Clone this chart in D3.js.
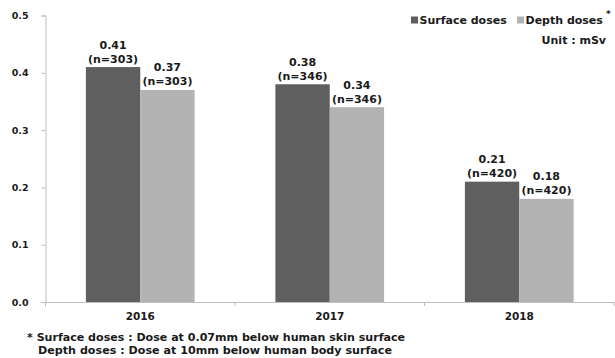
<!DOCTYPE html>
<html>
<head>
<meta charset="utf-8">
<script src="https://cdn.jsdelivr.net/npm/d3@7"></script>
<style>
  html, body { margin: 0; padding: 0; background: #fff; }
  svg { display: block; }
  text { font-family: "DejaVu Sans", sans-serif; font-weight: bold; fill: #1a1a1a; }
</style>
</head>
<body>
<svg id="chart" width="615" height="358"></svg>
<script>
const years = ["2016", "2017", "2018"];
const seriesNames = ["Surface doses", "Depth doses"];
const surfaceDoses = [0.41, 0.38, 0.21];
const depthDoses = [0.37, 0.34, 0.18];
const sampleSizes = [303, 346, 420];
const yTicks = [0.0, 0.1, 0.2, 0.3, 0.4, 0.5];
const colors = ["#5f5f5f", "#b3b3b3"];
const footnotes = [
  "* Surface doses : Dose at 0.07mm below human skin surface",
  "Depth doses : Dose at 10mm below human body surface"
];

(function () {
const svg = d3.select("#chart");
const mLeft = 45.5, mRight = 614, mTop = 15.5, mBottom = 302;

const x = d3.scaleBand().domain(years).range([mLeft, mRight]).paddingInner(0).paddingOuter(0);
const x1 = d3.scaleBand().domain(seriesNames).range([0, x.bandwidth()]).paddingInner(0).paddingOuter(0.743);
const y = d3.scaleLinear().domain([0, 0.5]).range([mBottom, mTop]);

// Y axis
const yAxis = svg.append("g").attr("transform", `translate(${mLeft},0)`)
  .call(d3.axisLeft(y).tickValues(yTicks).tickFormat(d3.format(".1f")).tickSize(4).tickPadding(13));
yAxis.select(".domain").attr("stroke", "#bdbdbd");
yAxis.selectAll(".tick line").attr("stroke", "#bdbdbd");
yAxis.selectAll(".tick text").attr("font-size", "9.5px").attr("font-family", "DejaVu Sans").attr("font-weight", "bold").attr("fill", "#1a1a1a");

// bars
const data = years.map((yr, i) => ({
  year: yr,
  vals: [
    { s: seriesNames[0], v: surfaceDoses[i], n: sampleSizes[i], c: colors[0] },
    { s: seriesNames[1], v: depthDoses[i], n: sampleSizes[i], c: colors[1] }
  ]
}));

const groups = svg.append("g").selectAll("g").data(data).join("g")
  .attr("transform", d => `translate(${x(d.year)},0)`);

groups.selectAll("rect").data(d => d.vals).join("rect")
  .attr("x", d => x1(d.s))
  .attr("width", x1.bandwidth())
  .attr("y", d => y(d.v))
  .attr("height", d => y(0) - y(d.v))
  .attr("fill", d => d.c);

groups.selectAll("text.val").data(d => d.vals).join("text")
  .attr("class", "val")
  .attr("x", d => x1(d.s) + x1.bandwidth() / 2)
  .attr("y", d => y(d.v) - 18.5)
  .attr("text-anchor", "middle")
  .attr("font-size", "11px")
  .text(d => d.v.toFixed(2));

groups.selectAll("text.n").data(d => d.vals).join("text")
  .attr("class", "n")
  .attr("x", d => x1(d.s) + x1.bandwidth() / 2)
  .attr("y", d => y(d.v) - 4.5)
  .attr("text-anchor", "middle")
  .attr("font-size", "11px")
  .text(d => `(n=${d.n})`);

// X axis
const xAxis = svg.append("g").attr("transform", `translate(0,${mBottom})`)
  .call(d3.axisBottom(x).tickSize(0).tickPadding(11));
xAxis.select(".domain").attr("stroke", "#bdbdbd");
xAxis.selectAll(".tick text").attr("font-size", "10.5px").attr("font-family", "DejaVu Sans").attr("font-weight", "bold").attr("fill", "#1a1a1a");
// boundary ticks
svg.append("g").selectAll("line").data(years.concat(["end"])).join("line")
  .attr("x1", (d, i) => i < years.length ? x(d) : mRight)
  .attr("x2", (d, i) => i < years.length ? x(d) : mRight)
  .attr("y1", mBottom).attr("y2", mBottom + 4)
  .attr("stroke", "#bdbdbd");

// Legend
const lg = svg.append("g");
const legendX = [411, 517];
seriesNames.forEach((s, i) => {
  lg.append("rect").attr("x", legendX[i]).attr("y", 16.5).attr("width", 7).attr("height", 7).attr("fill", colors[i]);
  lg.append("text").attr("x", legendX[i] + 8.5).attr("y", 24).attr("font-size", "11px").text(s);
});
lg.append("text").attr("x", 606).attr("y", 17).attr("font-size", "9px").text("*");
lg.append("text").attr("x", 606).attr("y", 44).attr("text-anchor", "end").attr("font-size", "11px").text("Unit : mSv");

// Footnotes
svg.append("text").attr("x", 27).attr("y", 341).attr("font-size", "10.5px").attr("textLength", 378).attr("lengthAdjust", "spacingAndGlyphs").text(footnotes[0]);
svg.append("text").attr("x", 38).attr("y", 354).attr("font-size", "10.5px").attr("textLength", 354).attr("lengthAdjust", "spacingAndGlyphs").text(footnotes[1]);
})();
</script>
</body>
</html>
